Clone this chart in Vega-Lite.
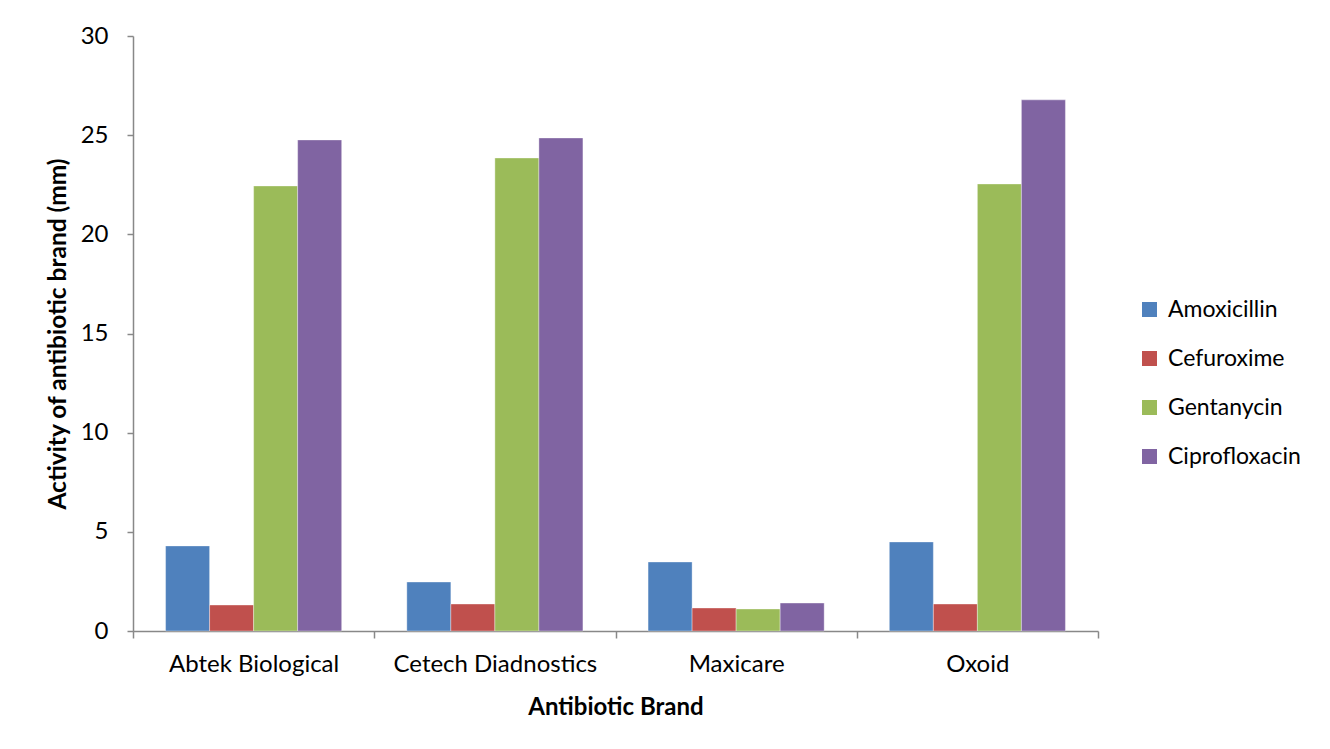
{
  "$schema": "https://vega.github.io/schema/vega-lite/v6.json",
  "width": 965,
  "height": 595,
  "autosize": "none",
  "padding": {"left": 133, "top": 36, "right": 232, "bottom": 118},
  "background": "white",
  "config": {
    "view": {"stroke": null},
    "font": "Lato",
    "axis": {"grid": false, "domainColor": "#888888", "tickColor": "#888888", "labelColor": "#000000", "titleColor": "#000000", "labelFont": "Lato", "titleFont": "Lato"}
  },
  "data": {
    "values": [
      {"brand": "Abtek Biological", "antibiotic": "Amoxicillin", "value": 4.29},
      {"brand": "Abtek Biological", "antibiotic": "Cefuroxime", "value": 1.31},
      {"brand": "Abtek Biological", "antibiotic": "Gentanycin", "value": 22.44},
      {"brand": "Abtek Biological", "antibiotic": "Ciprofloxacin", "value": 24.76},
      {"brand": "Cetech Diadnostics", "antibiotic": "Amoxicillin", "value": 2.47},
      {"brand": "Cetech Diadnostics", "antibiotic": "Cefuroxime", "value": 1.36},
      {"brand": "Cetech Diadnostics", "antibiotic": "Gentanycin", "value": 23.85},
      {"brand": "Cetech Diadnostics", "antibiotic": "Ciprofloxacin", "value": 24.86},
      {"brand": "Maxicare", "antibiotic": "Amoxicillin", "value": 3.48},
      {"brand": "Maxicare", "antibiotic": "Cefuroxime", "value": 1.16},
      {"brand": "Maxicare", "antibiotic": "Gentanycin", "value": 1.11},
      {"brand": "Maxicare", "antibiotic": "Ciprofloxacin", "value": 1.41},
      {"brand": "Oxoid", "antibiotic": "Amoxicillin", "value": 4.49},
      {"brand": "Oxoid", "antibiotic": "Cefuroxime", "value": 1.36},
      {"brand": "Oxoid", "antibiotic": "Gentanycin", "value": 22.54},
      {"brand": "Oxoid", "antibiotic": "Ciprofloxacin", "value": 26.78}
    ]
  },
  "mark": {"type": "bar", "stroke": "white", "strokeWidth": 0.6, "strokeOpacity": 0.6},
  "encoding": {
    "x": {
      "field": "brand", "type": "nominal", "sort": null,
      "scale": {"paddingInner": 0, "paddingOuter": 0},
      "axis": {"title": "Antibiotic Brand", "labelAngle": 0, "labelFontSize": 24, "labelLimit": 0, "titleFontSize": 24, "titleFontWeight": "bold", "tickSize": 7, "tickBand": "extent", "labelPadding": 14, "titlePadding": 19, "domainWidth": 1.5, "tickWidth": 1.5}
    },
    "xOffset": {
      "field": "antibiotic", "type": "nominal", "sort": ["Amoxicillin", "Cefuroxime", "Gentanycin", "Ciprofloxacin"],
      "scale": {"paddingInner": 0, "paddingOuter": 0.74}
    },
    "y": {
      "field": "value", "type": "quantitative",
      "scale": {"domain": [0, 30], "nice": false},
      "axis": {"title": "Activity of antibiotic brand (mm)", "values": [0, 5, 10, 15, 20, 25, 30], "labelFontSize": 24, "titleFontSize": 24.5, "titleFontWeight": "bold", "tickSize": 6, "labelPadding": 19, "titlePadding": 10, "domainWidth": 1.5, "tickWidth": 1.5}
    },
    "color": {
      "field": "antibiotic", "type": "nominal",
      "sort": ["Amoxicillin", "Cefuroxime", "Gentanycin", "Ciprofloxacin"],
      "scale": {"domain": ["Amoxicillin", "Cefuroxime", "Gentanycin", "Ciprofloxacin"], "range": ["#4F81BD", "#C0504D", "#9BBB59", "#8064A2"]},
      "legend": {"title": null, "orient": "none", "legendX": 1005, "legendY": 262, "symbolType": "square", "symbolSize": 225, "symbolStrokeWidth": 0, "labelFontSize": 23, "rowPadding": 25, "labelOffset": 7, "labelColor": "#000000"}
    }
  }
}
